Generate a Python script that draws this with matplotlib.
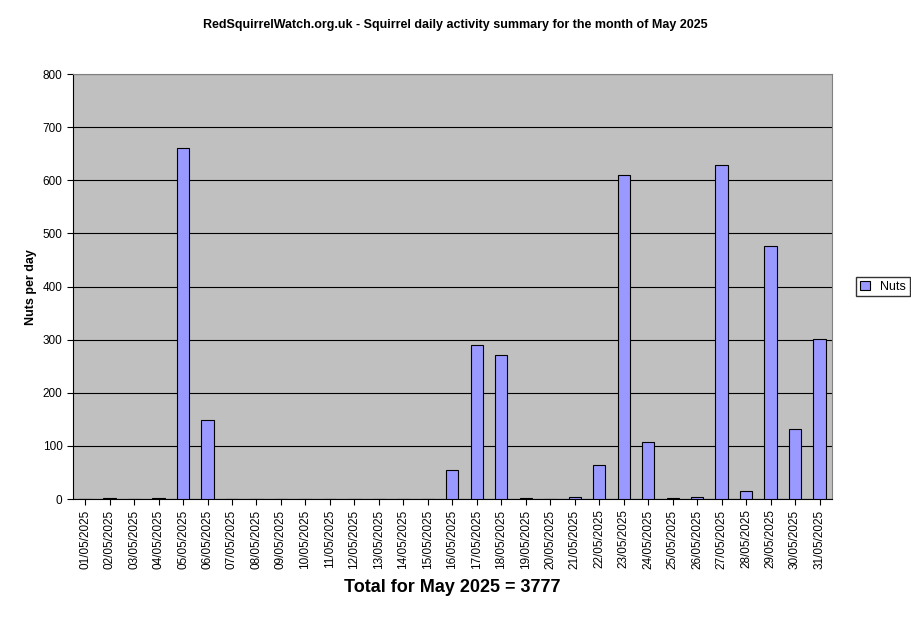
import matplotlib
matplotlib.use("Agg")
import matplotlib.pyplot as plt

days = [f"{d:02d}/05/2025" for d in range(1, 32)]
nuts = [0, 2, 0, 2, 660, 148, 0, 0, 0, 0, 0, 0, 0, 0, 0, 55, 290, 271, 2, 0,
        4, 65, 610, 108, 2, 4, 628, 15, 476, 132, 301]
total = 3777

fig = plt.figure(figsize=(9.11, 6.23), dpi=100)
ax = fig.add_axes([0.080, 0.199, 0.833, 0.682])
ax.set_facecolor("#c0c0c0")
x = list(range(len(days)))
ax.bar(x, nuts, width=0.5, color="#9999ff", edgecolor="black", linewidth=0.8, label="Nuts", zorder=3)
ax.set_xlim(-0.5, len(days) - 0.5)
ax.set_ylim(0, 800)
ax.set_yticks(range(0, 801, 100))
ax.yaxis.grid(True, color="black", linewidth=0.8, zorder=1)
ax.set_xticks(x)
ax.set_xticklabels(days, rotation=90, fontsize=8.5, family="Liberation Sans")
for t in ax.get_yticklabels():
    t.set_fontsize(8.5); t.set_family("Liberation Sans")
ax.tick_params(direction="out", length=4)
for s in ax.spines.values():
    s.set_color("#808080")
ax.spines["left"].set_color("black")
ax.spines["bottom"].set_color("black")
ax.set_ylabel("Nuts per day", fontsize=9, fontweight="bold", family="Liberation Sans")
fig.text(0.5, 0.955, "RedSquirrelWatch.org.uk - Squirrel daily activity summary for the month of May 2025",
         ha="center", fontsize=9, fontweight="bold", family="Liberation Sans")
fig.text(0.496, 0.05, f"Total for May 2025 = {total}", ha="center", fontsize=13,
         fontweight="bold", family="Liberation Sans")
fig.legend(loc="center left", bbox_to_anchor=(0.933, 0.54), fontsize=9, frameon=True,
           fancybox=False, edgecolor="black", handlelength=0.8, borderpad=0.3,
           prop={"family": "Liberation Sans", "size": 9})
fig.savefig("out.png", dpi=100, facecolor="white")
